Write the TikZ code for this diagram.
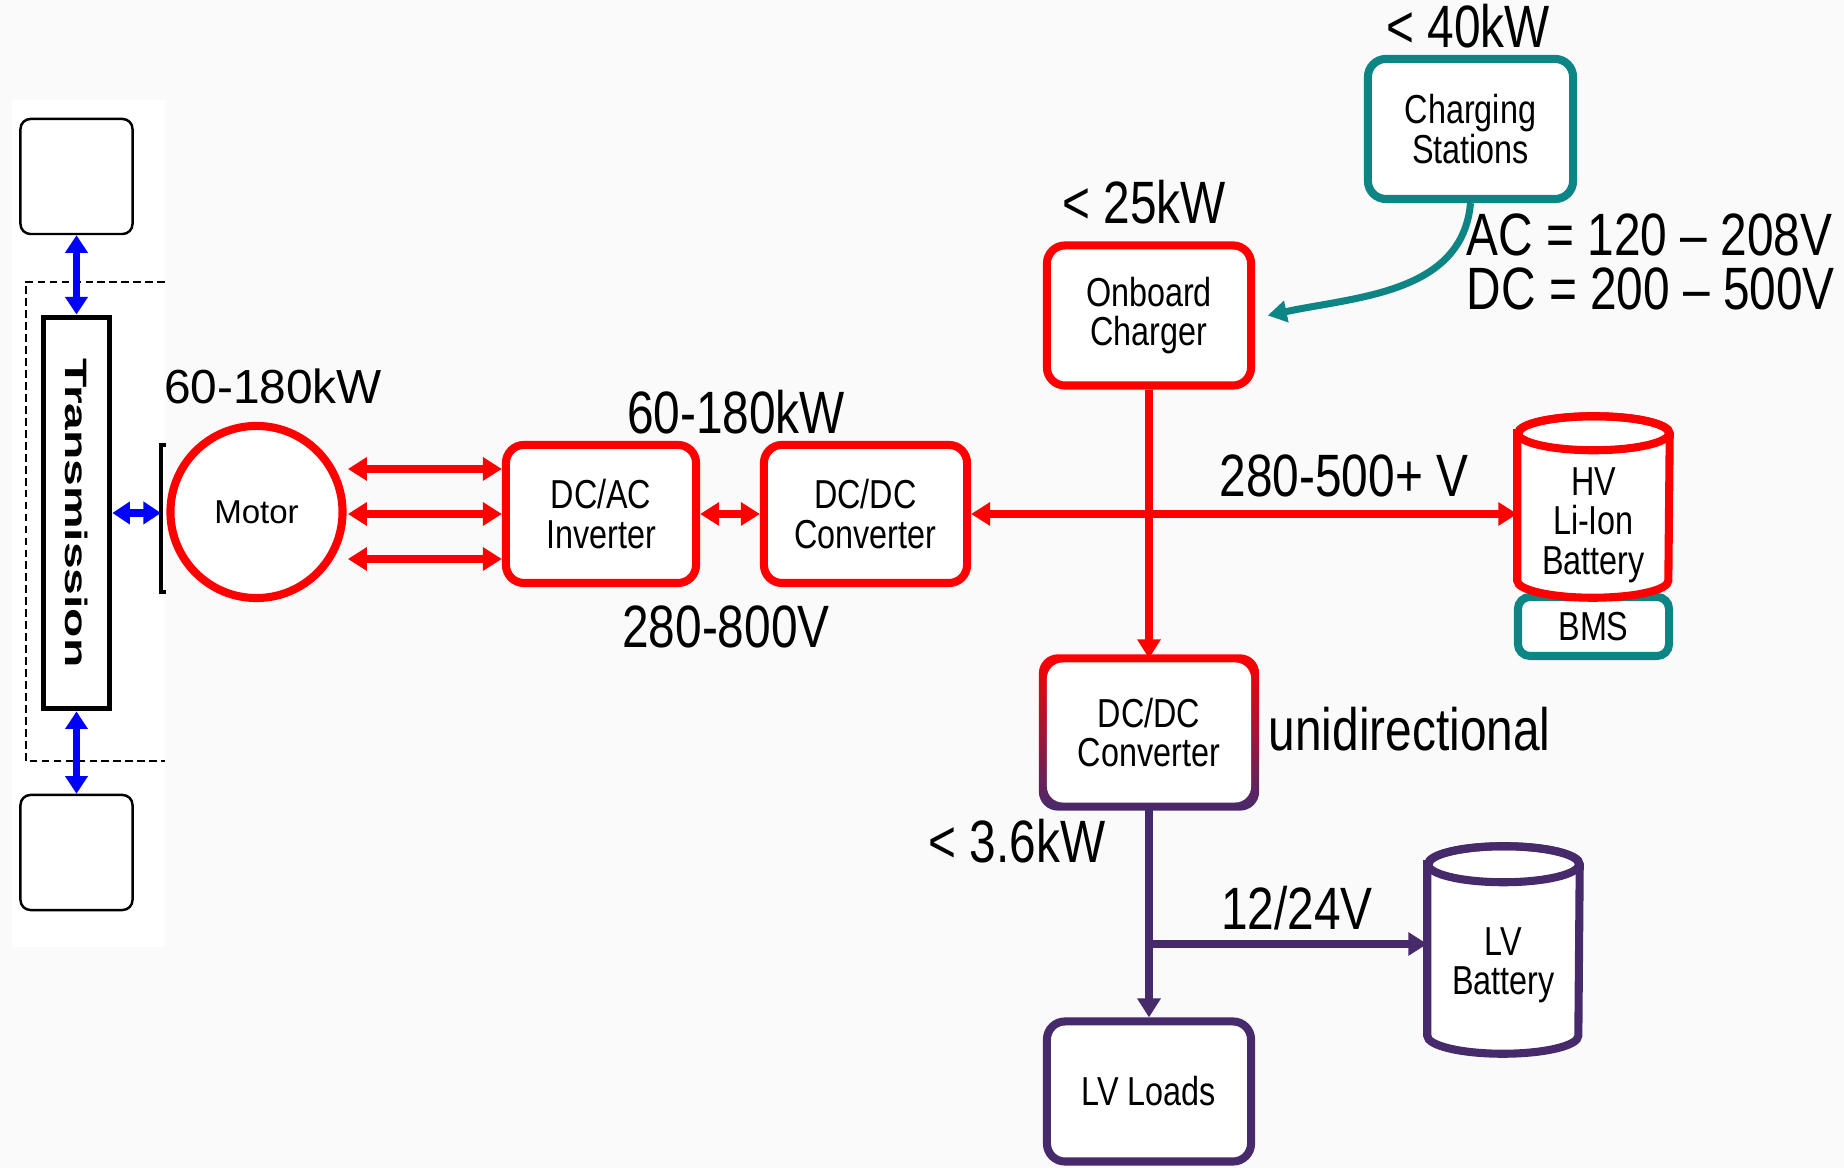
\documentclass[tikz,border=0pt]{standalone}
\usepackage{fontspec}
\setmainfont{Liberation Sans}
\newfontfamily\narrowsf[FakeStretch=0.8]{Liberation Sans}
\newfontfamily\widesf[FakeStretch=1.55]{Liberation Sans}
\usetikzlibrary{arrows.meta,positioning,calc,backgrounds}
\definecolor{evred}{RGB}{255,0,0}
\definecolor{evteal}{RGB}{14,133,133}
\definecolor{evpurple}{RGB}{70,42,108}
\definecolor{evpink}{RGB}{255,135,155}
\definecolor{evblue}{RGB}{0,0,255}
\definecolor{evbg}{RGB}{250,250,250}
\tikzset{
  hvbox/.style={draw=evred,line width=2.3pt,rounded corners=0.18cm,fill=white,align=center,
    minimum width=2.04cm,minimum height=1.40cm,inner sep=2pt,font=\narrowsf\fontsize{11.5}{11.2}\selectfont},
  chgbox/.style={hvbox,draw=evteal},
  lvbox/.style={hvbox,draw=evpurple},
  cylbox/.style={minimum width=1.51cm,minimum height=1.80cm,inner sep=0pt},
  battxt/.style={align=center,inner sep=1pt,font=\narrowsf\fontsize{11.5}{11.2}\selectfont},
  biglbl/.style={inner sep=0pt,font=\narrowsf\fontsize{17}{15.6}\selectfont},
  wheel/.style={draw,line width=0.7pt,rounded corners=0.1cm,fill=white,minimum width=1.12cm,minimum height=1.15cm},
  redarr/.style={draw=evred,line width=2.1pt,>={Triangle[length=5.4pt,width=6.4pt]}},
  bluarr/.style={draw=evblue,line width=2.2pt,>={Triangle[length=5pt,width=6.2pt]}},
  tealarr/.style={draw=evteal,line width=2pt,>={Triangle[length=5.4pt,width=6pt]}},
  purarr/.style={draw=evpurple,line width=2.1pt,>={Triangle[length=5.4pt,width=6.4pt]}}
}
\begin{document}
\begin{tikzpicture}[x=0.01cm,y=-0.01cm]
\useasboundingbox (0,0) rectangle (1844,1168);
\begin{scope}[on background layer]
\fill[evbg] (0,0) rectangle (1844,1168);
\end{scope}
% drivetrain panel
\fill[white] (12,100) rectangle (165,947);
\node[wheel] (whtop) at (76.5,176.5) {};
\node[wheel] (whbot) at (76.5,852.5) {};
\node[draw,line width=1.6pt,fill=white,minimum width=0.66cm,minimum height=3.91cm,inner sep=0pt,
  font=\widesf\bfseries\fontsize{8.8}{10}\selectfont] (trans) at (76.5,513) {\rotatebox{-90}{Transmission}};
\draw[line width=0.8pt,dash pattern=on 2.2pt off 1.2pt] (165,282) -- (26,282) -- (26,761) -- (165,761);
\coordinate (brk) at (161,513);
\draw[line width=0.9pt] (166,445) -- (161,445) -- (161,592) -- (166,592);
\draw[bluarr,<->] (whtop.south) -- (trans.north);
\draw[bluarr,<->] (trans.south) -- (whbot.north);
\draw[bluarr,<->] (trans.east) -- (brk);
% motor and inverter
\node[circle,draw=evred,line width=2.3pt,fill=white,minimum size=1.72cm,font=\fontsize{9.4}{11}\selectfont] (motor) at (256.5,512) {Motor};
\node[inner sep=0pt,font=\fontsize{13.6}{15}\selectfont] (motorpw) at (273,386) {60-180kW};
\node[hvbox,minimum width=1.9cm,minimum height=1.38cm] (inv) at (601,514) {DC/AC\\Inverter};
\node[hvbox,minimum width=2.03cm,minimum height=1.38cm] (hvconv) at (865.5,514) {DC/DC\\Converter};
\node[biglbl] (invpw) at (736,412) {60-180kW};
\node[biglbl] (invv) at (726,627) {280-800V};
\foreach \dy in {-12.8,0,12.8}
  \draw[redarr,<->] ([yshift=\dy pt]inv.west) -- ++(-154,0);
\draw[redarr,<->] (inv) -- (hvconv);
% charging
\node[hvbox] (obc) at (1149,315.5) {Onboard\\Charger};
\node[chgbox,minimum width=2.05cm] (chg) at (1470.5,129) {Charging\\Stations};
\node[biglbl] (obcpw) at (1144,202) {< 25kW};
\node[biglbl] (chgpw) at (1468,26) {< 40kW};
\node[biglbl,anchor=west,align=left] (chgv) at (1466,262) {AC = 120 \textendash{} 208V\\DC = 200 \textendash{} 500V};
\draw[tealarr,->] (chg.south) to[out=-95,in=12] ([xshift=3.6pt]obc.east);
% HV battery
\node[chgbox,minimum width=1.51cm,minimum height=0.59cm,rounded corners=0.12cm] (bms) at (1593.5,626.5) {BMS};
\node[cylbox] (hvbat) at (1593.5,507) {};
\draw[evred,line width=2.3pt,fill=white] ([yshift=-0.17cm]hvbat.north west) -- ([yshift=0.17cm]hvbat.south west)
  arc[start angle=180,end angle=360,x radius=0.755cm,y radius=0.17cm] -- ([yshift=-0.17cm]hvbat.north east)
  arc[start angle=0,end angle=180,x radius=0.755cm,y radius=0.17cm] -- cycle;
\draw[evred,line width=2.3pt] ([yshift=-0.17cm]hvbat.north) ellipse[x radius=0.755cm,y radius=0.17cm];
\node[battxt] (hvbattxt) at ([yshift=-0.18cm]hvbat.center) {HV\\Li-Ion\\Battery};
\node[biglbl] (buslbl) at (1344,476) {280-500+ V};
\draw[redarr,<->] (hvconv.east) -- (hvconv.east -| hvbat.west);
% LV side
\node[hvbox,draw=none,fill=none] (lvconv) at (1149,732.5) {DC/DC\\Converter};
\begin{scope}[on background layer]
\shade[rounded corners=0.19cm,top color=evred,middle color=evpink,bottom color=evpurple]
  ([shift={(-1.15pt,1.15pt)}]lvconv.north west) rectangle ([shift={(1.15pt,-1.15pt)}]lvconv.south east);
\fill[white,rounded corners=0.16cm]
  ([shift={(1.15pt,-1.15pt)}]lvconv.north west) rectangle ([shift={(-1.15pt,1.15pt)}]lvconv.south east);
\end{scope}
\draw[redarr,->] (obc.south) -- (lvconv.north);
\node[biglbl,anchor=west] (unilbl) at (1268,729) {unidirectional};
\node[lvbox] (loads) at (1149,1091.5) {LV Loads};
\node[cylbox,minimum height=2.06cm] (lvbat) at (1503.5,950) {};
\draw[evpurple,line width=2.3pt,fill=white] ([yshift=-0.18cm]lvbat.north west) -- ([yshift=0.18cm]lvbat.south west)
  arc[start angle=180,end angle=360,x radius=0.755cm,y radius=0.18cm] -- ([yshift=-0.18cm]lvbat.north east)
  arc[start angle=0,end angle=180,x radius=0.755cm,y radius=0.18cm] -- cycle;
\draw[evpurple,line width=2.3pt] ([yshift=-0.18cm]lvbat.north) ellipse[x radius=0.755cm,y radius=0.18cm];
\node[battxt] (lvbattxt) at ([yshift=-0.15cm]lvbat.center) {LV\\Battery};
\coordinate (tap) at (1149,944);
\draw[purarr,->] (lvconv.south) -- (loads.north);
\draw[purarr,->] (tap) -- (tap -| lvbat.west);
\node[biglbl] (lvpw) at (1017,841) {< 3.6kW};
\node[biglbl] (lvv) at (1297,908) {12/24V};
\end{tikzpicture}
\end{document}
